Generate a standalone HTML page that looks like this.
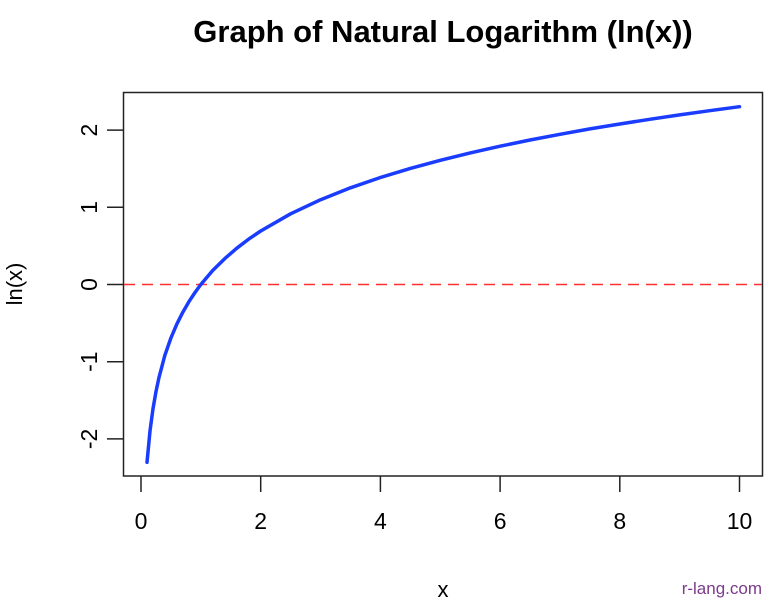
<!DOCTYPE html>
<html><head><meta charset="utf-8"><style>
body{margin:0;background:#fff;}
text{font-family:"Liberation Sans",Arial,sans-serif;}
</style></head><body>
<svg id="chart" width="768" height="602" viewBox="0 0 768 602" xmlns="http://www.w3.org/2000/svg">
<text x="443" y="42" text-anchor="middle" font-size="31" font-weight="bold">Graph of Natural Logarithm (ln(x))</text>
<rect x="123.5" y="92.5" width="639" height="383.5" fill="none" stroke="#222" stroke-width="1.5"/>
<g id="xaxis"></g>
<g id="yaxis"></g>
<text x="443" y="597" text-anchor="middle" font-size="22">x</text>
<text transform="translate(22,284) rotate(-90)" text-anchor="middle" font-size="22">ln(x)</text>
<line id="zline" stroke="#ff3030" stroke-width="1.6" stroke-dasharray="11,7"/>
<path id="curve" fill="none" stroke="#1a3cff" stroke-width="3.5" stroke-linejoin="round" stroke-linecap="round"/>
<text x="762" y="594" text-anchor="end" font-size="17" fill="#7b3a8c">r-lang.com</text>
</svg>
<script>
const xValues=[0.1,0.15,0.2,0.25,0.3,0.4,0.5,0.6,0.7,0.8,0.9,1,1.2,1.4,1.6,1.8,2,2.5,3,3.5,4,4.5,5,5.5,6,6.5,7,7.5,8,8.5,9,9.5,10];
const yValues=[-2.303,-1.897,-1.609,-1.386,-1.204,-0.916,-0.693,-0.511,-0.357,-0.223,-0.105,0,0.182,0.336,0.470,0.588,0.693,0.916,1.099,1.253,1.386,1.504,1.609,1.705,1.792,1.872,1.946,2.015,2.079,2.140,2.197,2.251,2.303];
const xTicks=[0,2,4,6,8,10];
const yTicks=[-2,-1,0,1,2];
const refY=0;
const sx=v=>141+v*59.85;
const sy=v=>284.5-v*77.2;
const NS="http://www.w3.org/2000/svg";
const xa=document.getElementById('xaxis'),ya=document.getElementById('yaxis');
function mk(tag,attrs,parent,txt){const e=document.createElementNS(NS,tag);for(const k in attrs)e.setAttribute(k,attrs[k]);if(txt!=null)e.textContent=txt;parent.appendChild(e);return e;}
xTicks.forEach(t=>{
 const l=mk('line',{x1:sx(t),x2:sx(t),y1:476,y2:492,stroke:'#222','stroke-width':1.5},xa);
 
 
 const tx=mk('text',{x:sx(t),y:529,'text-anchor':'middle','font-size':23},xa,t);
 
 
});
yTicks.forEach(t=>{
 const l=mk('line',{x1:107,x2:123.5,y1:sy(t),y2:sy(t),stroke:'#222','stroke-width':1.5},ya);
 
 
 const tx=mk('text',{transform:`translate(97,${sy(t)}) rotate(-90)`,'text-anchor':'middle','font-size':23},ya,t);
 
 
});
const z=document.getElementById('zline');
z.setAttribute('x1',124);z.setAttribute('x2',762);z.setAttribute('y1',sy(refY));z.setAttribute('y2',sy(refY));
document.getElementById('curve').setAttribute('d',xValues.map((x,i)=>(i?'L':'M')+sx(x).toFixed(1)+','+sy(yValues[i]).toFixed(1)).join(''));
</script>
</body></html>
